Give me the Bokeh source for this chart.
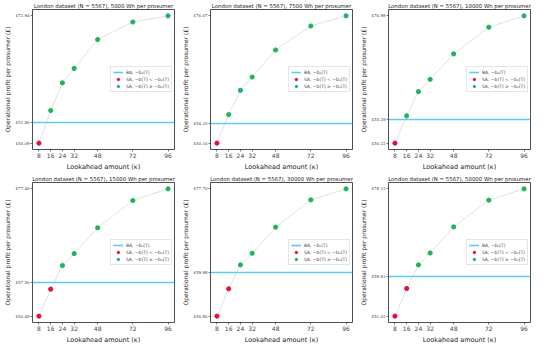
from bokeh.plotting import figure
from bokeh.layouts import gridplot
from bokeh.models import Range1d, FixedTicker
from bokeh.embed import file_html
from bokeh.resources import INLINE

lookahead = [8, 16, 24, 32, 48, 72, 96]
capacities = [5000, 7500, 10000, 15000, 30000, 50000]
profit_5000 = [50.09, 55.94, 60.91, 63.50, 68.69, 71.83, 72.94]
profit_7500 = [50.16, 55.98, 60.92, 63.61, 69.12, 74.00, 76.07]
profit_10000 = [50.22, 55.96, 61.05, 63.63, 68.98, 74.59, 76.98]
profit_15000 = [50.48, 56.20, 61.21, 63.74, 69.21, 74.99, 77.46]
profit_30000 = [50.86, 56.62, 61.66, 64.12, 69.62, 75.37, 77.70]
profit_50000 = [51.62, 57.37, 62.28, 64.77, 70.20, 75.76, 78.12]
baseline = [53.86, 54.20, 55.28, 57.56, 59.98, 59.81]
n_prosumers = 5567

series = [profit_5000, profit_7500, profit_10000, profit_15000, profit_30000, profit_50000]

RED = "#e4103a"
GREEN = "#1fb25f"
BLUE = "#5ccdf2"
SANS = "DejaVu Sans"
SERIF = "DejaVu Serif"

figs = []
for cap, vals, b in zip(capacities, series, baseline):
    lo, hi = min(vals), max(vals)
    yr = hi - lo
    xr = max(lookahead) - min(lookahead)
    p = figure(width=178, height=173, output_backend="svg", toolbar_location=None,
               x_range=Range1d(min(lookahead) - 0.05 * xr, max(lookahead) + 0.05 * xr),
               y_range=Range1d(lo - 0.05 * yr, hi + 0.05 * yr),
               title=f"London dataset (N = {n_prosumers}), {cap} Wh per prosumer",
               min_border_left=4, min_border_right=4, min_border_top=2, min_border_bottom=2)
    p.title.text_font = SANS
    p.title.text_font_size = "5.4px"
    p.title.text_font_style = "normal"
    p.title.text_color = "#222222"
    p.title.align = "center"
    p.title.standoff = 1
    p.grid.visible = False
    p.outline_line_color = "#222222"
    p.outline_line_width = 0.8

    p.line(lookahead, vals, color="#d9d9d9", line_width=0.8)
    p.hspan(y=[b], line_color=BLUE, line_width=1.6, legend_label="BA, −b₀(T)")
    rx = [x for x, v in zip(lookahead, vals) if v < b]
    ry = [v for v in vals if v < b]
    gx = [x for x, v in zip(lookahead, vals) if v >= b]
    gy = [v for v in vals if v >= b]
    p.scatter(rx, ry, size=4.2, color=RED, legend_label="SA, −b(T) < −b₀(T)")
    p.scatter(gx, gy, size=4.2, color=GREEN, legend_label="SA, −b(T) ≥ −b₀(T)")

    p.xaxis.ticker = FixedTicker(ticks=lookahead)
    p.yaxis.ticker = FixedTicker(ticks=[lo, b, hi])
    p.yaxis.major_label_overrides = {lo: f"£{lo:.2f}", b: f"£{b:.2f}", hi: f"£{hi:.2f}"}
    for ax in (p.xaxis[0], p.yaxis[0]):
        ax.axis_line_color = None
        ax.major_tick_line_color = "#222222"
        ax.major_tick_line_width = 0.6
        ax.major_tick_out = 2
        ax.major_tick_in = 0
        ax.minor_tick_line_color = None
        ax.major_label_standoff = 1
        ax.axis_label_standoff = 2
        ax.axis_label_text_font = SANS
        ax.axis_label_text_font_style = "normal"
        ax.axis_label_text_color = "#222222"
    p.xaxis.axis_label = "Lookahead amount (κ)"
    p.xaxis.axis_label_text_font_size = "6.5px"
    p.xaxis.major_label_text_font = SANS
    p.xaxis.major_label_text_font_size = "6px"
    p.yaxis.axis_label = "Operational profit per prosumer (£)"
    p.yaxis.axis_label_text_font_size = "6px"
    p.yaxis.major_label_text_font = SERIF
    p.yaxis.major_label_text_font_size = "4px"

    lg = p.legend[0]
    lg.location = "center_right"
    lg.label_text_font = SANS
    lg.label_text_font_size = "4.5px"
    lg.label_height = 6
    lg.glyph_height = 6
    lg.glyph_width = 10
    lg.spacing = 1
    lg.padding = 2
    lg.margin = 2
    lg.label_standoff = 3
    lg.border_line_color = "#cccccc"
    lg.border_line_width = 0.6
    lg.background_fill_alpha = 0.85
    figs.append(p)

grid = gridplot([figs[:3], figs[3:]], toolbar_location=None)
open("out.html", "w").write(file_html(grid, INLINE))
